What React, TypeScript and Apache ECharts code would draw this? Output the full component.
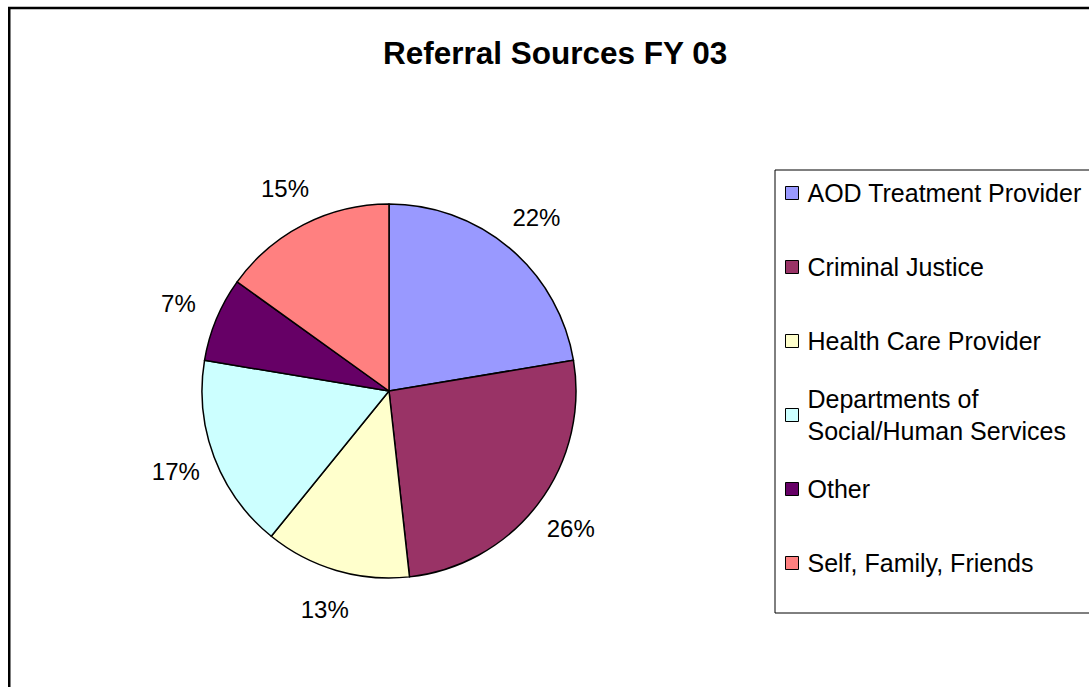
import React, { useEffect, useRef } from "react";
import * as echarts from "echarts";

const TITLE = "Referral Sources FY 03";
const categories = [
  "AOD Treatment Provider",
  "Criminal Justice",
  "Health Care Provider",
  "Departments of\nSocial/Human Services",
  "Other",
  "Self, Family, Friends",
];
const values = [22.4, 25.9, 12.6, 16.8, 7.3, 15.1];
const colors = ["#9999FF", "#993366", "#FFFFCC", "#CCFFFF", "#660066", "#FF8080"];

export default function App() {
  const ref = useRef<HTMLDivElement>(null);
  useEffect(() => {
    if (!ref.current) return;
    const chart = echarts.init(ref.current, undefined, { renderer: "svg" });
    const data = categories.map((name, i) => ({
      name,
      value: values[i],
      itemStyle: { color: colors[i] },
    }));
    const font = "Liberation Sans, Arial, sans-serif";
    chart.setOption({
      animation: false,
      backgroundColor: "#fff",
      title: {
        text: TITLE,
        left: 383,
        top: 37,
        padding: 0,
        textStyle: { fontFamily: font, fontWeight: "bold", fontSize: 31.5, color: "#000" },
      },
      graphic: [
        {
          type: "rect",
          shape: { x: 9.25, y: 8, width: 1200, height: 800 },
          style: { fill: "none", stroke: "#000", lineWidth: 2.5 },
          silent: true,
        },
      ],
      legend: {
        orient: "vertical",
        left: 775,
        top: 170,
        padding: [-25, 12, 2, 10],
        itemGap: -22,
        itemWidth: 13,
        itemHeight: 13,
        borderColor: "#000",
        borderWidth: 1,
        icon: "rect",
        itemStyle: { borderColor: "#000", borderWidth: 1 },
        selectedMode: false,
        textStyle: {
          fontFamily: font,
          fontSize: 25,
          color: "#000",
          lineHeight: 32,
          padding: [32, 0, 32, 4],
        },
        data: categories.map((name, i) =>
          i === 3
            ? { name, textStyle: { padding: [32, 0, 0, 4], lineHeight: 32, fontSize: 25 } }
            : { name }
        ),
      },
      series: [
        {
          type: "pie",
          center: [389, 391],
          radius: 187,
          startAngle: 90,
          clockwise: true,
          silent: true,
          label: { show: false },
          labelLine: { show: false },
          itemStyle: { borderColor: "#000", borderWidth: 1.5 },
          emphasis: { disabled: true },
          data,
        },
        {
          type: "pie",
          center: [389, 391],
          radius: [200, 250],
          startAngle: 90,
          clockwise: true,
          silent: true,
          percentPrecision: 0,
          avoidLabelOverlap: false,
          itemStyle: { color: "transparent", borderWidth: 0 },
          label: {
            show: true,
            position: "inside",
            formatter: "{d}%",
            fontFamily: font,
            fontSize: 24,
            color: "#000",
          },
          labelLine: { show: false },
          emphasis: { disabled: true },
          data: categories.map((name, i) => ({ name, value: values[i] })),
        },
      ],
    });
    return () => chart.dispose();
  }, []);
  return (
    <div
      ref={ref}
      style={{ position: "fixed", left: 0, top: 0, width: 1089, height: 687 }}
    />
  );
}
